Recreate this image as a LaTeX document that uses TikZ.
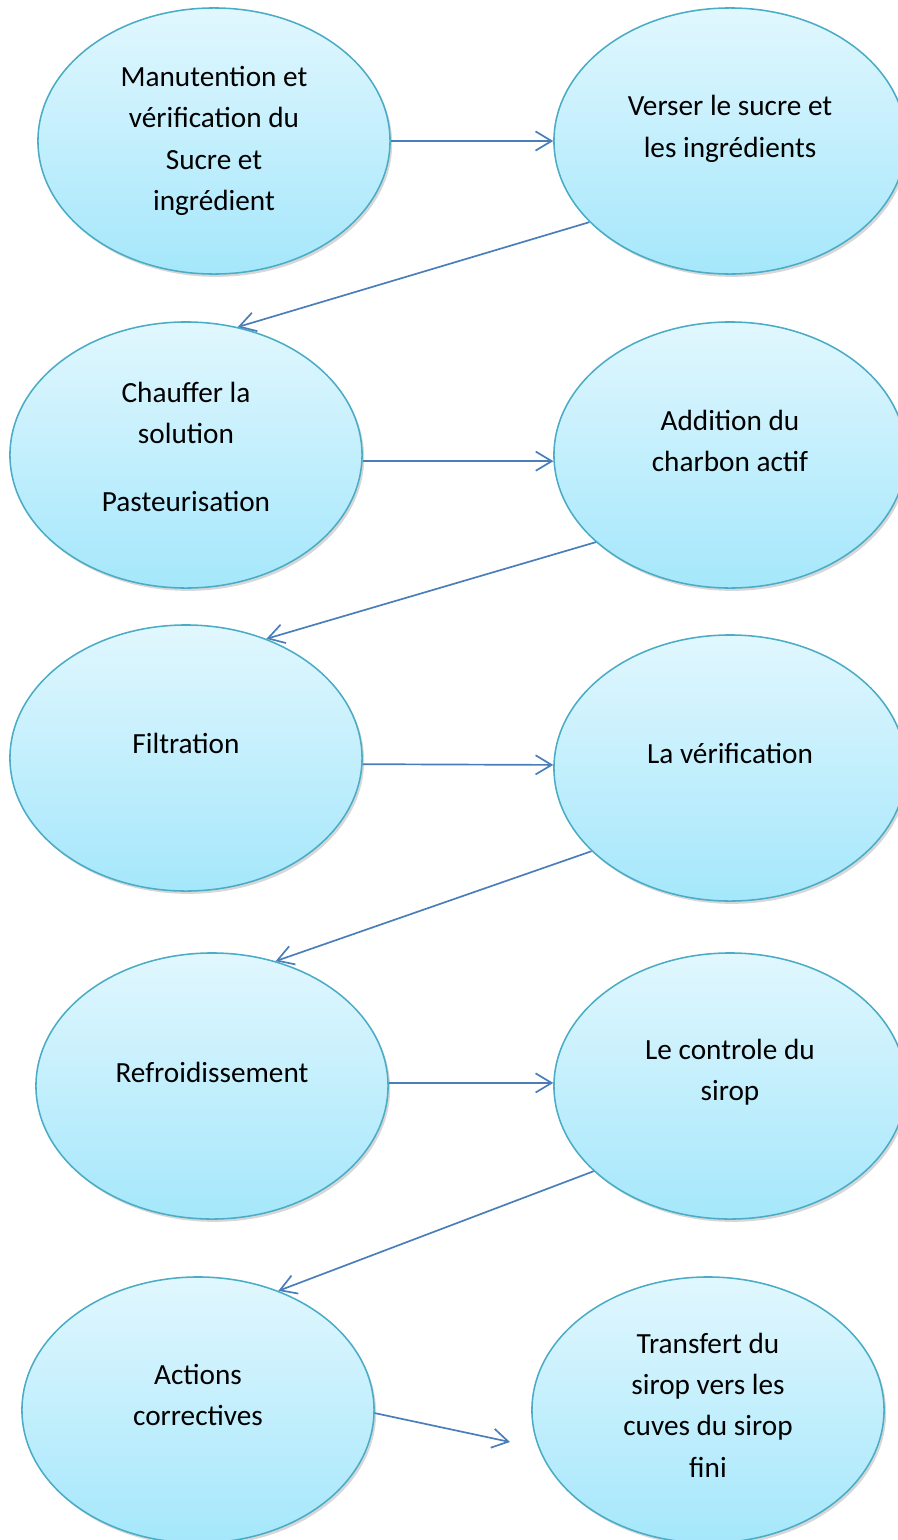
\documentclass[tikz,border=0pt]{standalone}
\usepackage{fontspec}
\setmainfont{Carlito}
\usepackage{tikz}
\usetikzlibrary{positioning, arrows.meta, shapes.geometric, shadows}

\definecolor{bubbletop}{HTML}{E1F7FE}
\definecolor{bubblebottom}{HTML}{A5E7FB}
\definecolor{ringteal}{HTML}{4BACC6}
\definecolor{arrowblue}{HTML}{4A7EBB}

\begin{document}
\begin{tikzpicture}[x=0.025cm, y=-0.025cm,
    bubble/.style={ellipse, draw=ringteal, line width=1.1pt,
                   top color=bubbletop, bottom color=bubblebottom,
                   minimum width=8.8cm, minimum height=6.65cm,
                   drop shadow={shadow xshift=1.5pt, shadow yshift=-2pt, fill=black!35, opacity=0.45}},
    txt/.style={font=\fontsize{20.8}{29.4}\selectfont, align=center},
    arrow/.style={-{Straight Barb[length=4mm, width=4.8mm]}, line width=1.2pt, arrowblue}
]
    \useasboundingbox (0,0) rectangle (898,1540);

    % Row 1
    \node[bubble] (e1) at (214, 141) {};
    \node[txt] (t1) at (214, 141) {Manutention et\\ vérification du\\ Sucre et\\ ingrédient};
    \node[bubble] (e2) at (730, 141) {};
    \node[txt] (t2) at (730, 129) {Verser le sucre et\\ les ingrédients};

    % Row 2
    \node[bubble] (e3) at (186, 455) {};
    \node[txt] (t3) at (186, 447) {Chauffer la\\ solution\\[19pt] Pasteurisation};
    \node[bubble] (e4) at (730, 455) {};
    \node[txt] (t4) at (730, 441) {Addition du\\ charbon actif};

    % Row 3
    \node[bubble] (e5) at (186, 758) {};
    \node[txt] (t5) at (186, 743) {Filtration};
    \node[bubble] (e6) at (730, 768) {};
    \node[txt] (t6) at (730, 753) {La vérification};

    % Row 4
    \node[bubble] (e7) at (212, 1086) {};
    \node[txt] (t7) at (212, 1072) {Refroidissement};
    \node[bubble] (e8) at (730, 1086) {};
    \node[txt] (t8) at (730, 1072) {Le controle du\\ sirop};

    % Row 5
    \node[bubble] (e9) at (198, 1410) {};
    \node[txt] (t9) at (198, 1395) {Actions\\ correctives};
    \node[bubble] (e10) at (708, 1410) {};
    \node[txt] (t10) at (708, 1405) {Transfert du\\ sirop vers les\\ cuves du sirop\\ fini};

    % Arrows showing flow
    \coordinate (tip9) at (510, 1442);
    \draw[arrow] (e1.east) -- (e2.west);
    \draw[arrow] (e2.210) -- (e3.68);
    \draw[arrow] (e3.-2) -- (e4.182);
    \draw[arrow] (e4.213) -- (e5.56);
    \draw[arrow] (e5.-2) -- (e6.179);
    \draw[arrow] (e6.211) -- (e7.63);
    \draw[arrow] (e7.1) -- (e8.179);
    \draw[arrow] (e8.212) -- (e9.56);
    \draw[arrow] (e9.-1) -- (tip9);

\end{tikzpicture}
\end{document}
